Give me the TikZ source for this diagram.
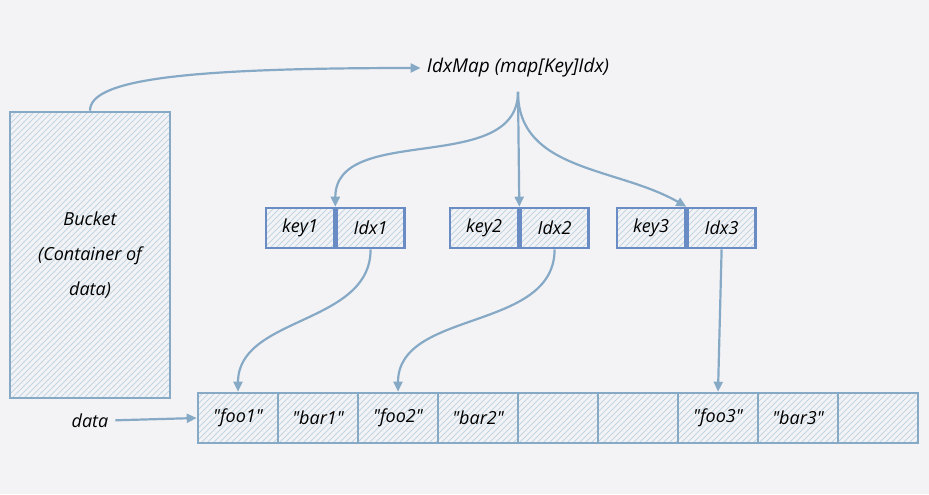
\documentclass[tikz,border=0pt]{standalone}
\usepackage{fontspec}
\setmainfont{Open Sans}
\usepackage{xcolor}
\usepackage{tikz}
\usetikzlibrary{positioning,patterns,arrows.meta}
\definecolor{bgcol}{HTML}{F3F3F5}
\definecolor{edgecol}{HTML}{86A9C6}
\definecolor{keycol}{HTML}{6A8CC4}
\definecolor{hatchcol}{HTML}{C3D6E6}
\newcommand{\q}[1]{\textquotedbl#1\textquotedbl}

\begin{document}
\begin{tikzpicture}[x=0.5pt,y=-0.5pt,
	cell/.style={draw=edgecol,line width=1.3pt,pattern=north east lines,pattern color=hatchcol,
		minimum width=40pt,minimum height=25pt,inner sep=0pt,font=\fontsize{9}{10}\selectfont\itshape},
	kv/.style={cell,draw=keycol,minimum width=34pt,minimum height=20pt},
	link/.style={draw=edgecol,line width=1.1pt,-{Triangle[length=5pt,width=4.5pt]}}]
	\fill[bgcol] (0,0) rectangle (929,494);
	\useasboundingbox (0,0) rectangle (929,494);
	% bucket and map
	\node[cell,minimum width=80pt,minimum height=143pt,align=center,
		font=\fontsize{9}{17.5}\selectfont\itshape] (bucket) at (90,255) {Bucket\\(Container of\\data)};
	\node[inner xsep=3pt,inner ysep=7pt,font=\fontsize{9.5}{10}\selectfont\itshape] (idxmap) at (518,68) {IdxMap (map[Key]Idx)};
	% key / idx pairs
	\node[kv] (key1) at (300,228) {key1};
	\node[kv,right=0pt of key1] (idx1) {Idx1};
	\node[kv] (key2) at (484,228) {key2};
	\node[kv,right=0pt of key2] (idx2) {Idx2};
	\node[kv] (key3) at (651,228) {key3};
	\node[kv,right=0pt of key3] (idx3) {Idx3};
	% data cells
	\foreach \i/\t in {1/\q{foo1},2/\q{bar1},3/\q{foo2},4/\q{bar2},5/,6/,7/\q{foo3},8/\q{bar3},9/}
		\node[cell] (d\i) at ({158+80*\i},418) {\t};
	\node[font=\fontsize{9}{10}\selectfont\itshape] (data) at (90,421) {data};
	% connectors
	\draw[link] (bucket.north) .. controls (90,80) and (180,68) .. (idxmap.west);
	\draw[link] (idxmap.south) to[out=-90,in=90] (key1.north east);
	\draw[link] (idxmap.south) -- (key2.north east);
	\draw[link] (idxmap.south) to[out=-90,in=150] (key3.north east);
	\draw[link] (idx1.south) to[out=-90,in=90] (d1.north);
	\draw[link] (idx2.south) to[out=-90,in=90] (d3.north);
	\draw[link] (idx3.south) -- (d7.north);
	\draw[link] (data) -- (d1.west);
\end{tikzpicture}
\end{document}
